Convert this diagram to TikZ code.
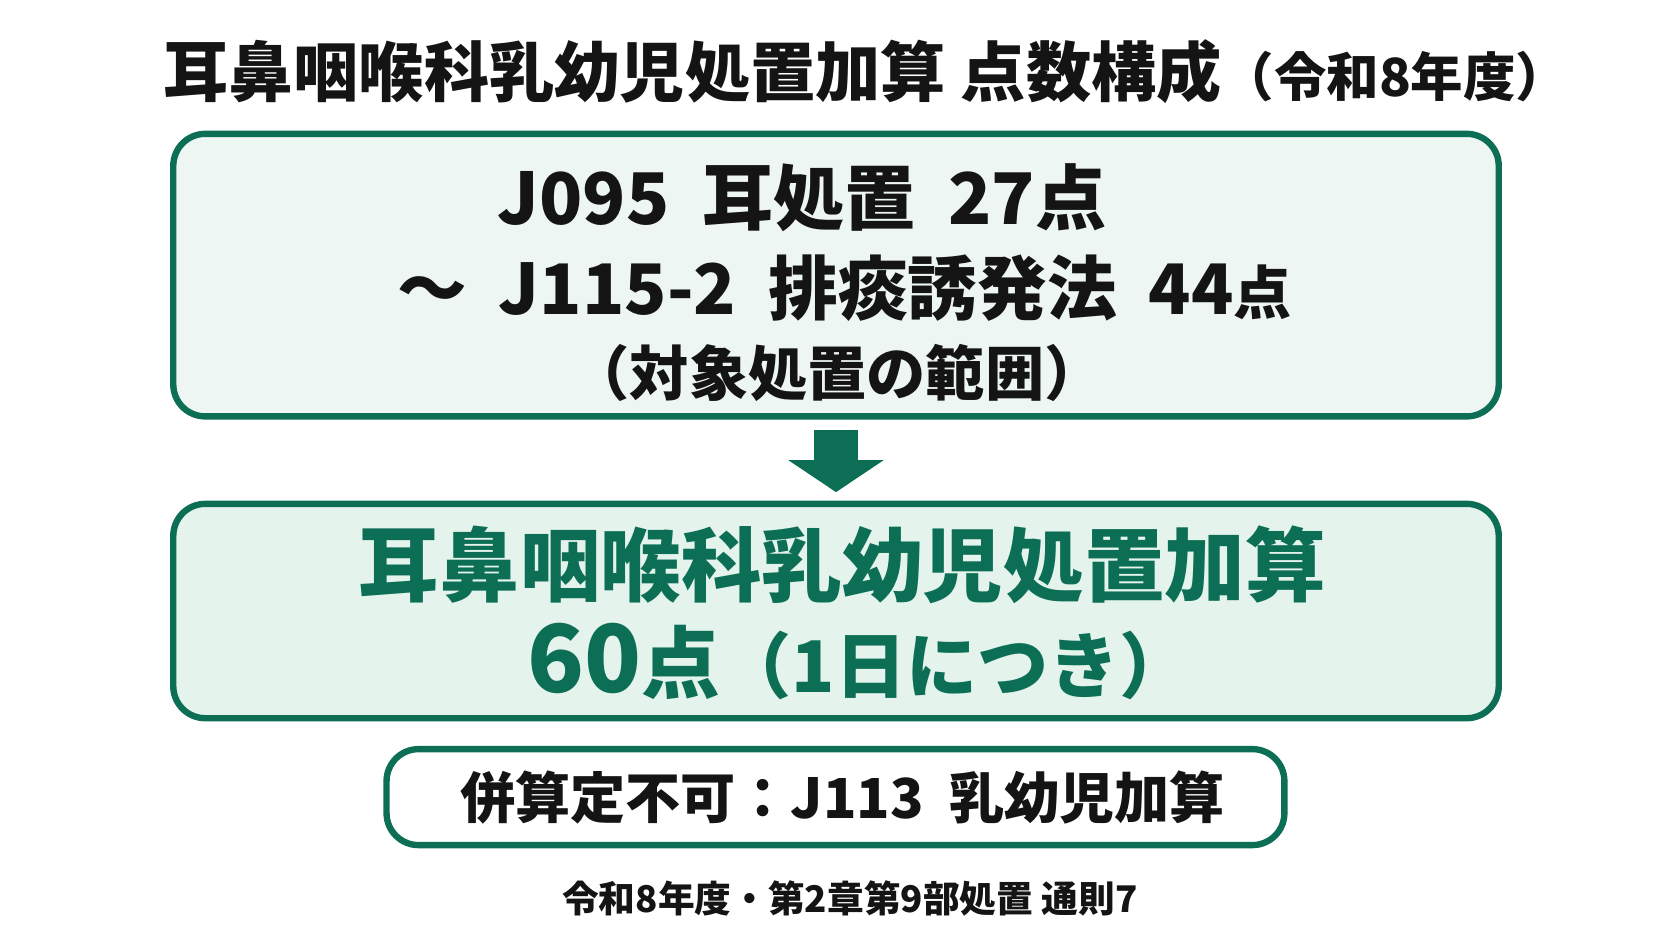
\documentclass[tikz,border=0pt]{standalone}
\usepackage{fontspec}
\setmainfont{Noto Sans CJK JP}
\usepackage{xcolor}
\usepackage{tikz}
\usetikzlibrary{arrows.meta,positioning}

\definecolor{jgreen}{HTML}{0B6E55}
\definecolor{paleA}{HTML}{EEF6F3}
\definecolor{paleB}{HTML}{E4F3EC}
\definecolor{ink}{HTML}{141414}

\begin{document}
\begin{tikzpicture}[
    font=\bfseries,
    box/.style={draw=jgreen, rectangle, line width=1.7pt, rounded corners=0.3cm},
    txt/.style={inner sep=0pt, text=ink}
  ]
  \fill[white] (0,0) rectangle (15.68,-8.82);

  % 見出し
  \node[txt] (title) at (8.12,-0.67) {\fontsize{17.4}{20}\selectfont 耳鼻咽喉科乳幼児処置加算\ 点数構成\fontsize{14}{17}\selectfont （令和8年度）};

  % 対象処置の枠
  \node[box, fill=paleA, minimum width=12.43cm, minimum height=2.65cm] (range) at (7.84,-2.58) {};
  \node[txt, anchor=west] (first) at (4.66,-1.85) {\fontsize{19}{22}\selectfont J095\ \ 耳処置\ \ 27点};
  \node[txt, anchor=west] (last) at (3.72,-2.70) {\fontsize{18.6}{22}\selectfont 〜\ \ J115-2\ \ 排痰誘発法\ \ 44\fontsize{15.5}{18}\selectfont 点};
  \node[txt] (note) at (7.85,-3.50) {\fontsize{15.8}{18}\selectfont （対象処置の範囲）};

  % 加算の枠
  \node[box, fill=paleB, minimum width=12.43cm, minimum height=2.01cm] (addon) at (7.84,-5.73) {};
  \node[txt, text=jgreen] (name) at (7.90,-5.30) {\fontsize{21.5}{24}\selectfont 耳鼻咽喉科乳幼児処置加算};
  \node[txt, text=jgreen] (pts) at (8.06,-6.20) {\fontsize{25}{28}\selectfont 60\fontsize{21}{24}\selectfont 点\fontsize{19}{22}\selectfont （1日につき）};

  \draw[jgreen, line width=0.42cm, -{Triangle[width=0.88cm,length=0.30cm]}]
    ([yshift=-0.1cm]range.south) -- ([yshift=0.08cm]addon.north);

  % 併算定不可
  \node[box, fill=white, minimum width=8.42cm, minimum height=0.90cm] (excl) at (7.835,-7.475) {};
  \node[txt] (exclt) at (7.90,-7.48) {\fontsize{14.7}{17}\selectfont 併算定不可：J113\ \ 乳幼児加算};

  % 出典
  \node[txt] (src) at (7.97,-8.43) {\fontsize{9.8}{12}\selectfont 令和8年度・第2章第9部処置\ 通則7};

  \pgfresetboundingbox
  \useasboundingbox (0,0) rectangle (15.68,-8.82);
\end{tikzpicture}
\end{document}
